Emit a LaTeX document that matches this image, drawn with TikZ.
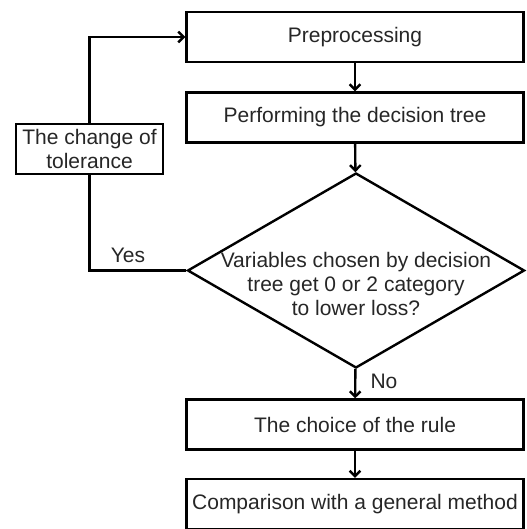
\documentclass[tikz,border=0pt]{standalone}
\usepackage{fontspec}
\setmainfont{Liberation Sans}
\usetikzlibrary{arrows.meta,shapes.geometric}
\begin{document}
\begin{tikzpicture}[x=0.75pt,y=-0.75pt,
 line width=1.8pt,
 every node/.style={font=\fontsize{15.75}{18}\selectfont, text=black!85},
 procbox/.style={draw=black, rectangle, minimum width=252.75pt, minimum height=37.5pt, inner sep=0pt},
 flow/.style={draw=black, -{Straight Barb[length=4pt,width=8pt,line width=1.8pt]}},
]
\useasboundingbox (0,0) rectangle (526,529);
\node[procbox] (pre) at (355,37) {Preprocessing};
\node[procbox] (perf) at (355,117.5) {Performing the decision tree};
\node[draw=black, diamond, minimum width=252.75pt, minimum height=146.25pt, inner sep=0pt] (dec) at (356,270.5) {};
\node[align=center, inner sep=0pt] (dectext) at (356,284) {Variables chosen by decision\\tree get 0 or 2 category\\to lower loss?};
\node[procbox] (choice) at (355,424.5) {The choice of the rule};
\node[procbox] (comp) at (355,504) {Comparison with a general method};
\node[draw=black, fill=white, minimum width=110.25pt, minimum height=37.5pt, inner sep=0pt, align=center] (tol) at (89.5,149) {The change of\\tolerance};
\draw[flow] (pre) -- (perf);
\draw[flow] (perf) -- (dec);
\draw[flow] (dec) -- (choice);
\draw[flow] (choice) -- (comp);
\draw (dec.west) -| (tol.south);
\draw[flow] (tol.north) |- (pre.west);
\node (yes) at (128,255) {Yes};
\node (no) at (384,381) {No};
\end{tikzpicture}
\end{document}
